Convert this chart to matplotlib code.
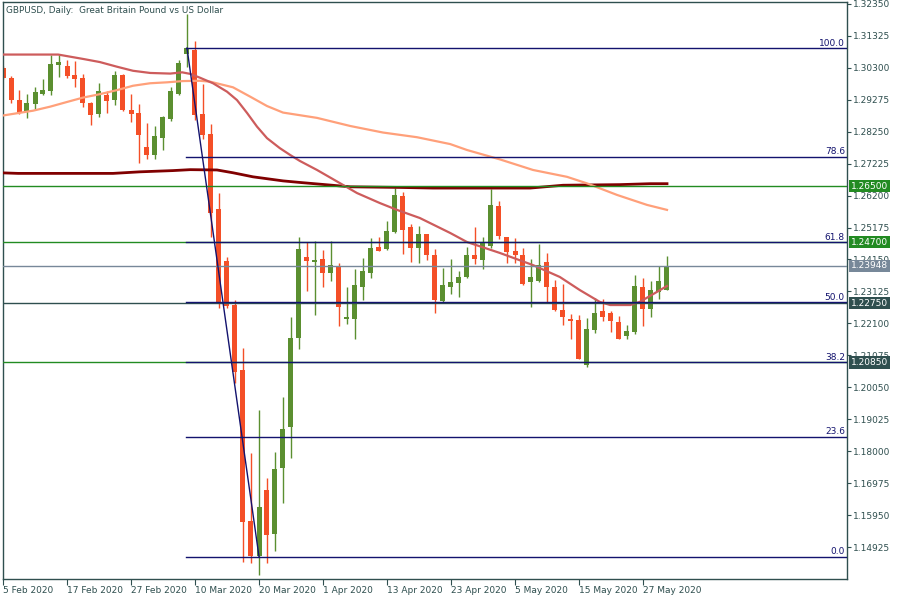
import numpy as np
import matplotlib.pyplot as plt
import matplotlib.transforms as mtransforms

plt.rcParams['font.family'] = ['DejaVu Sans']

# GBPUSD daily candles, 5 Feb 2020 .. 1 Jun 2020
opens = [1.3029, 1.2997, 1.2926, 1.2889, 1.2913, 1.2946, 1.2955, 1.3038, 1.3035, 1.3006,
         1.2997, 1.2917, 1.2881, 1.2942, 1.2926, 1.3006, 1.2894, 1.2885, 1.2776, 1.2750,
         1.2804, 1.2865, 1.2946, 1.3074, 1.3087, 1.2881, 1.2817, 1.2577, 1.2410, 1.2269,
         1.2061, 1.1577, 1.1464, 1.1676, 1.1535, 1.1746, 1.1878, 1.2163, 1.2423, 1.2407,
         1.2417, 1.2372, 1.2394, 1.2224, 1.2224, 1.2327, 1.2372, 1.2455, 1.2449, 1.2503,
         1.2618, 1.2519, 1.2452, 1.2497, 1.2429, 1.2282, 1.2327, 1.2340, 1.2359, 1.2429,
         1.2413, 1.2458, 1.2587, 1.2487, 1.2442, 1.2429, 1.2343, 1.2346, 1.2407, 1.2327,
         1.2253, 1.2224, 1.2221, 1.2077, 1.2189, 1.2250, 1.2243, 1.2215, 1.2170, 1.2183,
         1.2327, 1.2256, 1.2311, 1.2317]
highs = [1.3035, 1.3003, 1.2958, 1.2946, 1.2968, 1.2994, 1.3071, 1.3071, 1.3055, 1.3051,
         1.3010, 1.2920, 1.2981, 1.2955, 1.3019, 1.3010, 1.2946, 1.2913, 1.2853, 1.2843,
         1.2875, 1.2968, 1.3055, 1.3202, 1.3116, 1.2978, 1.2849, 1.2628, 1.2423, 1.2285,
         1.2131, 1.1795, 1.1932, 1.1714, 1.1798, 1.1974, 1.2231, 1.2487, 1.2471, 1.2474,
         1.2445, 1.2474, 1.2404, 1.2327, 1.2385, 1.2420, 1.2484, 1.2487, 1.2538, 1.2644,
         1.2631, 1.2529, 1.2522, 1.2497, 1.2449, 1.2388, 1.2417, 1.2378, 1.2455, 1.2519,
         1.2487, 1.2641, 1.2603, 1.2487, 1.2484, 1.2452, 1.2417, 1.2465, 1.2436, 1.2349,
         1.2336, 1.2240, 1.2237, 1.2227, 1.2292, 1.2288, 1.2250, 1.2234, 1.2205, 1.2365,
         1.2356, 1.2346, 1.2394, 1.2426]
lows = [1.2994, 1.2918, 1.2883, 1.2869, 1.2897, 1.2942, 1.2942, 1.3000, 1.2997, 1.2968,
        1.2904, 1.2846, 1.2872, 1.2885, 1.2910, 1.2891, 1.2856, 1.2724, 1.2737, 1.2737,
        1.2766, 1.2859, 1.2942, 1.3032, 1.2862, 1.2801, 1.2487, 1.2259, 1.2259, 1.2019,
        1.1445, 1.1442, 1.1403, 1.1442, 1.1480, 1.1634, 1.1779, 1.2128, 1.2314, 1.2237,
        1.2327, 1.2346, 1.2202, 1.2208, 1.2160, 1.2285, 1.2356, 1.2442, 1.2445, 1.2500,
        1.2433, 1.2407, 1.2404, 1.2413, 1.2243, 1.2279, 1.2304, 1.2295, 1.2356, 1.2401,
        1.2385, 1.2452, 1.2481, 1.2404, 1.2404, 1.2333, 1.2263, 1.2343, 1.2279, 1.2250,
        1.2205, 1.2160, 1.2096, 1.2070, 1.2179, 1.2218, 1.2183, 1.2160, 1.2160, 1.2176,
        1.2202, 1.2231, 1.2288, 1.2317]
closes = [1.2998, 1.2926, 1.2885, 1.2917, 1.2952, 1.2958, 1.3042, 1.3048, 1.3003, 1.2994,
          1.2917, 1.2878, 1.2955, 1.2923, 1.3006, 1.2894, 1.2881, 1.2814, 1.2750, 1.2811,
          1.2872, 1.2955, 1.3045, 1.3093, 1.2878, 1.2814, 1.2564, 1.2279, 1.2266, 1.2054,
          1.1573, 1.1464, 1.1622, 1.1532, 1.1743, 1.1872, 1.2163, 1.2449, 1.2410, 1.2413,
          1.2372, 1.2397, 1.2263, 1.2231, 1.2333, 1.2378, 1.2452, 1.2442, 1.2506, 1.2622,
          1.2509, 1.2452, 1.2497, 1.2429, 1.2285, 1.2333, 1.2343, 1.2359, 1.2429, 1.2417,
          1.2468, 1.2590, 1.2490, 1.2439, 1.2429, 1.2336, 1.2359, 1.2397, 1.2327, 1.2253,
          1.2231, 1.2218, 1.2096, 1.2192, 1.2243, 1.2231, 1.2218, 1.2160, 1.2186, 1.2330,
          1.2256, 1.2317, 1.2346, 1.2395]

# moving averages, read at some bars (bar index, price)
ma_fast_x = [-0.4, 6.9, 8, 10, 12.1, 14.25, 16.25, 18.4, 20.9, 22.4, 23.4, 24.6, 26.25, 28,
             29.25, 30.5, 31.75, 33, 34.6, 35.9, 37.1, 39.25, 42.1, 44.25, 47.1, 49.25, 52.1,
             55.9, 58, 62.1, 66.25, 69.6, 72.1, 74.6, 75.9, 78.4, 79.6, 83]
ma_fast = [1.3072, 1.3072, 1.3067, 1.3058, 1.3048, 1.3033, 1.3020, 1.3013, 1.3011, 1.3015,
           1.3010, 1.2998, 1.2980, 1.2953, 1.2926, 1.2885, 1.2841, 1.2804, 1.2772, 1.2750,
           1.2731, 1.2702, 1.2660, 1.2628, 1.2596, 1.2574, 1.2548, 1.2500, 1.2471, 1.2436,
           1.2397, 1.2359, 1.2317, 1.2279, 1.2269, 1.2269, 1.2279, 1.2330]
ma_mid_x = [-0.4, 3.75, 5.9, 8, 10, 12.1, 14.25, 16.25, 18.4, 20.5, 22.5, 24.6, 25.9, 28.75,
            30.9, 33, 35, 39.25, 43.4, 47.5, 51.75, 55.9, 58, 62.1, 66.25, 70.5, 73, 76.75,
            80.5, 83]
ma_mid = [1.2875, 1.2892, 1.2905, 1.2920, 1.2934, 1.2945, 1.2958, 1.2972, 1.2980, 1.2983,
          1.2987, 1.2988, 1.2985, 1.2967, 1.2937, 1.2907, 1.2886, 1.2869, 1.2843, 1.2822,
          1.2807, 1.2785, 1.2766, 1.2736, 1.2702, 1.2680, 1.2659, 1.2622, 1.2590, 1.2574]
ma_slow_x = [-0.4, 1.9, 13.75, 17.1, 21.25, 23.4, 26.75, 28.75, 31.25, 35, 37.1, 43.4, 49.6,
             53.75, 65.9, 70, 77.1, 80.9, 83]
ma_slow = [1.2693, 1.2691, 1.2691, 1.2696, 1.2700, 1.2703, 1.2702, 1.2693, 1.2680, 1.2667,
           1.2662, 1.2648, 1.2646, 1.2644, 1.2644, 1.2653, 1.2655, 1.2658, 1.2658]

fib_high = 1.30925
fib_low = 1.14625
fib_start, fib_end = 23, 32
fib_levels = [0.0, 23.6, 38.2, 50.0, 61.8, 78.6, 100.0]

levels = [1.2650, 1.2470, 1.23948, 1.2275, 1.2085]
level_colors = ['#228b22', '#228b22', '#778899', '#2f4f4f', '#228b22']
label_colors = ['#228b22', '#228b22', '#778899', '#2f4f4f', '#2f4f4f']

tick_dates = ['5 Feb 2020', '17 Feb 2020', '27 Feb 2020', '10 Mar 2020', '20 Mar 2020',
              '1 Apr 2020', '13 Apr 2020', '23 Apr 2020', '5 May 2020', '15 May 2020',
              '27 May 2020']
price_ticks = [1.32350 - k * 0.01025 for k in range(18)]

dark = '#2f4f4f'
navy = '#13136e'
green_c = '#5b8f30'
red_c = '#f44f27'

fig = plt.figure(figsize=(9, 6), dpi=100)
ax = fig.add_axes([2.5 / 900, 21.3 / 600, 844.5 / 900, 576.7 / 600])

o = np.array(opens)
h = np.array(highs)
l = np.array(lows)
c = np.array(closes)
idx = np.arange(len(c))
cols = [green_c if cc >= oo else red_c for oo, cc in zip(o, c)]

ax.vlines(idx, l, h, colors=cols, lw=1.0, zorder=2)
body = np.maximum(np.abs(c - o), 0.00035)
ax.bar(idx, body, bottom=np.minimum(o, c), width=0.625, color=cols, linewidth=0, zorder=2)

ax.plot(ma_slow_x, ma_slow, color='#800000', lw=2.0, zorder=3)
ax.plot(ma_mid_x, ma_mid, color='#ffa07a', lw=1.6, zorder=3)
ax.plot(ma_fast_x, ma_fast, color='#cd5c5c', lw=1.6, zorder=3)

# support / resistance lines
for v, col in zip(levels, level_colors):
    ax.axhline(v, color=col, lw=1.0, zorder=4)

# fibonacci
xmax = 105.5
trans = mtransforms.blended_transform_factory(ax.transAxes, ax.transData)
for lv in fib_levels:
    y = fib_low + (fib_high - fib_low) * lv / 100
    ax.plot([fib_start - 0.1, xmax], [y, y], color=navy, lw=1.0, zorder=5)
    ax.text(0.9975, y + 0.0002, f'{lv:.1f}', transform=trans, ha='right', va='bottom',
            fontsize=6.5, color=navy, zorder=6)
ax.plot([fib_start, fib_end], [fib_high, fib_low], color=navy, lw=1.0, zorder=5)

# price boxes on the right scale
for v, col in zip(levels, label_colors):
    ax.text(1.0045, v, f'{v:.5f}', transform=trans, ha='left', va='center', fontsize=6.5,
            color='white', clip_on=False, zorder=10,
            bbox=dict(boxstyle='square,pad=0.18', fc=col, ec='none'))

ax.set_xlim(-0.0625, xmax)
ax.set_ylim(1.13916, 1.32405)

ax.yaxis.tick_right()
ax.set_yticks(price_ticks)
ax.set_yticklabels([f'{p:.5f}' for p in price_ticks])
ax.set_xticks(np.arange(0, 8 * len(tick_dates), 8))
ax.set_xticklabels(tick_dates)
for lbl in ax.get_xticklabels():
    lbl.set_ha('left')
ax.tick_params(axis='y', direction='out', length=3, width=0.8, color=dark,
               labelsize=6.5, labelcolor=dark, pad=1.5)
ax.tick_params(axis='x', direction='out', length=4, width=0.8, color=dark,
               labelsize=6.5, labelcolor=dark, pad=1.5)
for s in ax.spines.values():
    s.set_color(dark)
    s.set_linewidth(1.0)

ax.text(4 / 844.5, 1 - 8.5 / 576.7, 'GBPUSD, Daily:  Great Britain Pound vs US Dollar',
        transform=ax.transAxes, ha='left', va='center', fontsize=6.4, color=dark)

fig.savefig('out.png', dpi=100)
